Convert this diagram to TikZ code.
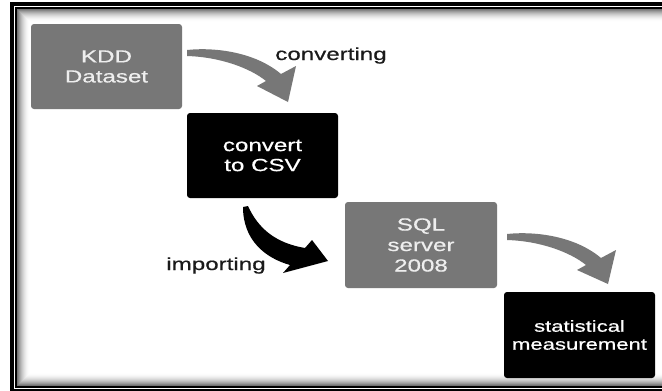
\documentclass[tikz,border=0pt]{standalone}
\usepackage{fontspec}
\setmainfont{Liberation Sans}
\newfontfamily\widefont{Liberation Sans}[FakeStretch=1.38,FakeBold=0.6]
\definecolor{boxgray}{HTML}{777777}
\definecolor{lighttext}{HTML}{EEEEEE}
\definecolor{labeltext}{HTML}{1A1A1A}
\begin{document}
\begin{tikzpicture}[x=1pt,y=-1pt,
  box/.style={rectangle, rounded corners=3pt, minimum width=151pt, minimum height=85pt,
    align=center, inner sep=0pt, font=\widefont\fontsize{17.5}{20}\selectfont},
  graybox/.style={box, fill=boxgray, text=lighttext},
  blackbox/.style={box, fill=black, text=white},
  lbl/.style={font=\widefont\fontsize{17.5}{20}\selectfont, text=labeltext, anchor=base, inner sep=0pt},
  grayarrow/.style={fill=boxgray},
  blackarrow/.style={fill=black}]
\useasboundingbox (0,0) rectangle (662,391);
% frame
\fill[black] (10,2) rectangle (700,400);
\fill[white] (14,6) rectangle (700,389.3);
\draw[black, line width=1.5pt] (16,7.8) rectangle (720,387);
\foreach \i [evaluate=\i as \c using {55*(1-\i/13)^2}] in {0,...,12}
  \draw[line width=1.1pt, draw=black!\c] (17.4+\i,9.2+\i) rectangle (730,385.6-\i);
% nodes
\node[graybox] (kdd) at (106.5,66.5) {KDD\\Dataset};
\node[blackbox] (csv) at (262.5,155.5) {convert\\to CSV};
\node[graybox, minimum width=152pt, minimum height=86pt,
  font=\widefont\fontsize{17.5}{20.5}\selectfont] (sql) at (421,245) {SQL\\server\\2008};
\node[blackbox, minimum height=86pt,
  font=\widefont\fontsize{16}{18}\selectfont] (stat) at (579.5,335) {statistical\\measurement};
% labels
\node[lbl] (conv) at (331,60) {converting};
\node[lbl] (imp) at (216,270) {importing};
% block arrows
\fill[grayarrow] (187,50) .. controls (215,47) and (255,52) .. (281,74) -- (296,66)
  -- (288,102) -- (257,86) -- (266,81) .. controls (250,68) and (220,57) .. (187,56) -- cycle;
\fill[blackarrow] (243,207) .. controls (243,240) and (265,258) .. (290,265) -- (283,273)
  -- (328,261) -- (312,240) -- (305,248) .. controls (275,243) and (258,228) .. (248,206) -- cycle;
\fill[grayarrow, shift={(320,184)}] (187,50) .. controls (215,47) and (255,52) .. (281,74) -- (296,66)
  -- (288,100) -- (257,86) -- (266,81) .. controls (250,68) and (220,57) .. (187,56) -- cycle;
\end{tikzpicture}
\end{document}
